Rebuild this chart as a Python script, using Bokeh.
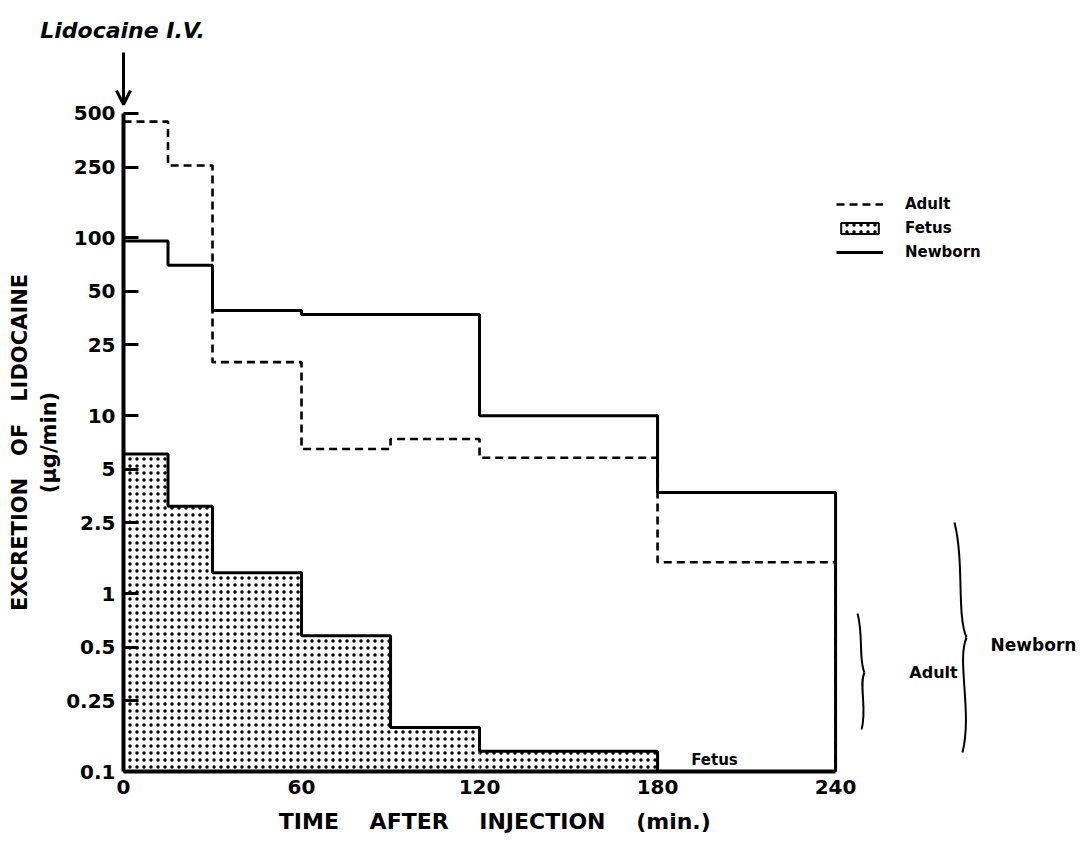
import math
from bokeh.plotting import figure
from bokeh.models import (Range1d, FixedTicker, Label, Arrow, OpenHead, Legend,
                          LegendItem, ColumnDataSource)
from bokeh.embed import file_html
from bokeh.resources import INLINE

# ---------------- data ----------------
adult_edges = [0, 15, 30, 60, 90, 120, 180, 240]
adult_vals = [450, 255, 20, 6.5, 7.4, 5.8, 1.5]

newborn_edges = [0, 15, 30, 60, 120, 180, 240]
newborn_vals = [96, 70, 39, 37, 10, 3.7]

fetus_edges = [0, 15, 30, 60, 90, 120, 180]
fetus_vals = [6.1, 3.1, 1.31, 0.58, 0.177, 0.13]

y_ticks = [0.1, 0.25, 0.5, 1, 2.5, 5, 10, 25, 50, 100, 250, 500]
y_tick_labels = ["0.1", "0.25", "0.5", "1", "2.5", "5", "10", "25", "50", "100", "250", "500"]
x_ticks = [0, 60, 120, 180, 240]
BASE = 0.1

FONT = "DejaVu Sans"
NB = "\u00a0"

# ---------------- layout helpers (reference pixel -> data) ----------------
X0, XS = 123.0, 2.967     # x pixel of t=0, pixels per minute
Y0, YS = 771.0, 177.9     # y pixel of 0.1, pixels per decade


def X(px):
    return (px - X0) / XS


def Y(py):
    return BASE * 10 ** ((Y0 - py) / YS)


def step_xy(edges, vals, base=BASE):
    xs, ys = [], []
    for i, v in enumerate(vals):
        xs += [edges[i], edges[i + 1]]
        ys += [v, v]
    xs.append(edges[-1])
    ys.append(base)
    return xs, ys


W, H = 1076, 840
p = figure(width=W, height=H, y_axis_type="log",
           x_range=Range1d(X(0), X(W)),
           y_range=Range1d(Y(H), Y(0)),
           output_backend="svg", toolbar_location=None,
           min_border_left=0, min_border_bottom=0, min_border_top=0,
           min_border_right=0)
p.outline_line_color = None
p.xgrid.visible = False
p.ygrid.visible = False
p.background_fill_color = "white"
p.border_fill_color = "white"

# ---------------- axes ----------------
yax = p.yaxis[0]
yax.fixed_location = 0
yax.ticker = FixedTicker(ticks=y_ticks, minor_ticks=[])
yax.major_label_overrides = {t: l for t, l in zip(y_ticks, y_tick_labels)}
yax.bounds = (BASE, 500)
yax.axis_line_width = 4
yax.axis_line_color = "black"
yax.major_tick_in = 15
yax.major_tick_out = 0
yax.major_tick_line_width = 3
yax.major_tick_line_color = "black"
yax.minor_tick_line_color = None
yax.major_label_standoff = 8
yax.major_label_text_font = FONT
yax.major_label_text_font_style = "bold"
yax.major_label_text_font_size = "20px"
yax.major_label_text_color = "black"
yax.axis_label = "EXCRETION" + NB * 3 + "OF" + NB * 3 + "LIDOCAINE\n(μg/min)"
yax.axis_label_text_font = FONT
yax.axis_label_text_font_style = "bold"
yax.axis_label_text_font_size = "21px"
yax.axis_label_text_color = "black"
yax.axis_label_standoff = 2

xax = p.xaxis[0]
xax.fixed_location = BASE
xax.ticker = FixedTicker(ticks=x_ticks, minor_ticks=[])
xax.bounds = (0, 240)
xax.axis_line_width = 4
xax.axis_line_color = "black"
xax.major_tick_in = 0
xax.major_tick_out = 0
xax.minor_tick_line_color = None
xax.major_label_standoff = 8
xax.major_label_text_font = FONT
xax.major_label_text_font_style = "bold"
xax.major_label_text_font_size = "20px"
xax.major_label_text_color = "black"
gap = NB * 4
xax.axis_label = gap + "TIME" + gap + "AFTER" + gap + "INJECTION" + gap + "(min.)"
xax.axis_label_text_font = FONT
xax.axis_label_text_font_style = "bold"
xax.axis_label_text_font_size = "22px"
xax.axis_label_text_color = "black"
xax.axis_label_standoff = 12

# ---------------- series ----------------
fsrc = ColumnDataSource(dict(left=fetus_edges[:-1], right=fetus_edges[1:],
                             top=fetus_vals, bottom=[BASE] * len(fetus_vals)))
p.quad(left="left", right="right", top="top", bottom="bottom", source=fsrc,
       fill_color="white", line_color=None, hatch_pattern="dot",
       hatch_color="black", hatch_scale=7, hatch_weight=1.3)
fx, fy = step_xy(fetus_edges, fetus_vals)
p.line(fx, fy, line_color="black", line_width=3)

nx, ny = step_xy(newborn_edges, newborn_vals)
newborn_r = p.line(nx, ny, line_color="black", line_width=3)

ax_, ay_ = step_xy(adult_edges, adult_vals)
adult_r = p.line(ax_, ay_, line_color="black", line_width=2.6, line_dash="8 5")

# legend proxy for the fetus swatch (NaN geometry: draws nothing on the plot)
nan = float("nan")
fetus_leg = p.quad(left=[nan], right=[nan], top=[nan], bottom=[nan],
                   fill_color="white", line_color="black", line_width=2,
                   hatch_pattern="dot", hatch_color="black", hatch_scale=7,
                   hatch_weight=1.3)
legend = Legend(items=[LegendItem(label="Adult", renderers=[adult_r]),
                       LegendItem(label="Fetus", renderers=[fetus_leg]),
                       LegendItem(label="Newborn", renderers=[newborn_r])],
                location=(836, H - 261), orientation="vertical",
                border_line_color=None, background_fill_alpha=0,
                glyph_width=47, glyph_height=14, label_height=14,
                spacing=6, padding=0, margin=0, label_standoff=22,
                label_text_font=FONT, label_text_font_style="bold",
                label_text_font_size="15px", label_text_color="black")
p.add_layout(legend, "center")

# ---------------- annotations ----------------
def brace(top, cusp, bottom, bulge):
    (tx, ty), (cx, cy), (bx, by) = top, cusp, bottom
    p.bezier(x0=[X(tx)], y0=[Y(ty)], x1=[X(cx)], y1=[Y(cy)],
             cx0=[X(tx + bulge)], cy0=[Y(ty + (cy - ty) * 0.35)],
             cx1=[X(cx - bulge)], cy1=[Y(ty + (cy - ty) * 0.8)],
             line_color="black", line_width=2)
    p.bezier(x0=[X(cx)], y0=[Y(cy)], x1=[X(bx)], y1=[Y(by)],
             cx0=[X(cx - bulge)], cy0=[Y(cy + (by - cy) * 0.2)],
             cx1=[X(bx + bulge)], cy1=[Y(cy + (by - cy) * 0.65)],
             line_color="black", line_width=2)


brace((857, 613), (864, 672), (861, 729), 6)
brace((954, 522), (966, 637), (962, 752), 10)

for txt, px, py, size in [("Adult", 933, 672, "16px"),
                          ("Newborn", 1033, 644, "17px"),
                          ("Fetus", 714, 759, "15px")]:
    p.add_layout(Label(x=X(px), y=Y(py), text=txt, text_align="center",
                       text_baseline="middle", text_font=FONT,
                       text_font_style="bold", text_font_size=size,
                       text_color="black"))

p.add_layout(Label(x=X(122), y=Y(30), text="Lidocaine I.V.", text_align="center",
                   text_baseline="middle", text_font=FONT,
                   text_font_style="bold italic", text_font_size="22px",
                   text_color="black"))
p.add_layout(Arrow(end=OpenHead(size=14, line_width=3, line_color="black"),
                   x_start=0, y_start=Y(52), x_end=0, y_end=Y(104),
                   line_width=3, line_color="black"))

open("out.html", "w").write(file_html(p, INLINE))
